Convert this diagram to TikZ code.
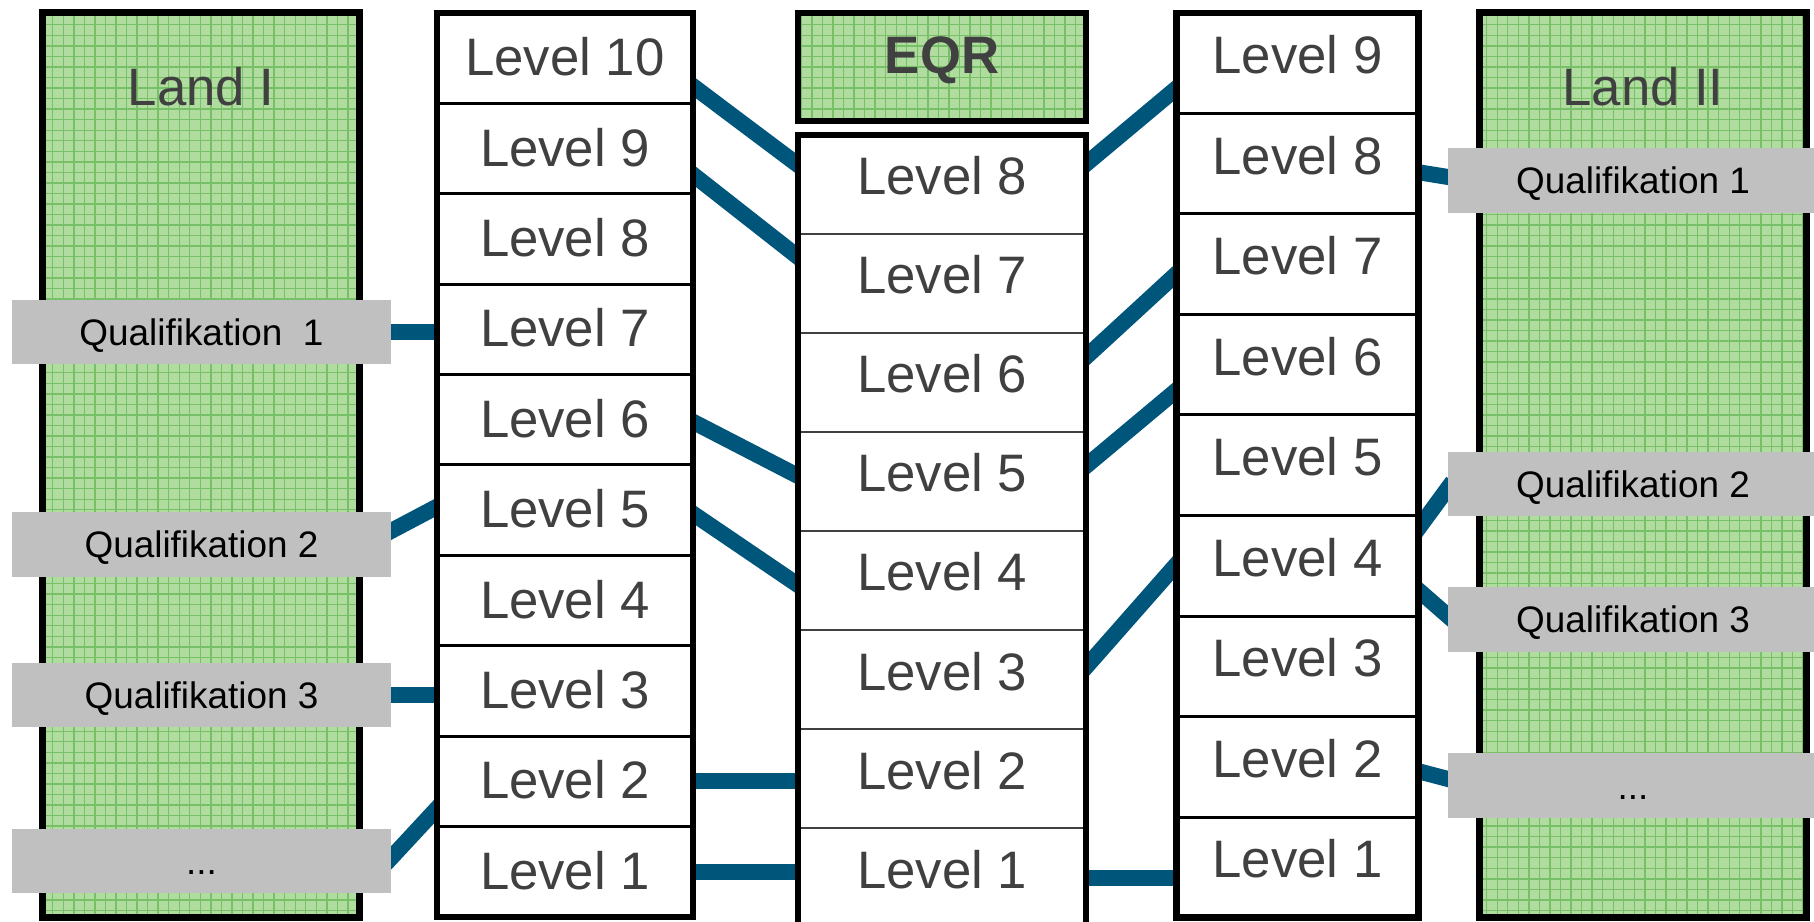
\documentclass[tikz,border=0pt]{standalone}
\usepackage{fontspec}
\setmainfont{Liberation Sans}
\definecolor{land_green}{RGB}{176,220,160}
\definecolor{grid_green}{RGB}{120,192,104}
\definecolor{link_blue}{RGB}{0,85,122}
\definecolor{qual_gray}{RGB}{192,192,192}
\definecolor{text_gray}{RGB}{64,64,64}
\usetikzlibrary{positioning,fit,patterns,backgrounds}

\begin{document}
\begin{tikzpicture}[
    levelCell/.style={draw, fill=white, inner sep=0pt, outer sep=0pt, text=text_gray, font=\fontsize{15}{18}\selectfont, text height=0.38cm},
    cellLeft/.style={levelCell, minimum width=2.56cm, minimum height=0.904cm, line width=0.03cm, text depth=0.03cm},
    cellEqr/.style={levelCell, draw=black!75, minimum width=2.88cm, minimum height=0.99cm, line width=0.02cm, text depth=0.17cm},
    cellRight/.style={levelCell, minimum width=2.42cm, minimum height=1.005cm, line width=0.03cm, text depth=0.17cm},
    colFrame/.style={draw, line width=0.065cm, inner sep=0pt, outer sep=0pt},
    landBox/.style={draw, line width=0.07cm, inner sep=0pt, outer sep=0pt, preaction={fill=land_green}, pattern=grid, pattern color=grid_green},
    landTitle/.style={inner sep=0pt, text=text_gray, font=\fontsize{15}{18}\selectfont},
    qualBox/.style={fill=qual_gray, inner sep=0pt, outer sep=0pt, minimum height=0.645cm, text height=0.27cm, text depth=0cm, font=\fontsize{10.5}{12}\selectfont},
    qualLeft/.style={qualBox, minimum width=3.79cm},
    qualRight/.style={qualBox, minimum width=3.70cm},
    link/.style={draw=link_blue, line width=0.16cm, shorten <=-0.08cm, shorten >=-0.08cm},
  ]
  \useasboundingbox (0,0) rectangle (18.14,9.21);

  % countries
  \node[landBox, minimum width=3.17cm, minimum height=9.045cm] (land1) at (2.01,4.5625) {};
  \node[landBox, minimum width=3.27cm, minimum height=9.045cm] (land2) at (16.43,4.5625) {};
  \node[landTitle] (title1) at ([yshift=-0.745cm]land1.north) {Land I};
  \node[landTitle] (title2) at ([yshift=-0.745cm]land2.north) {Land II};

  % levels of Land I
  \node[cellLeft] (l10) at (5.65,8.628) {Level 10};
  \foreach \i [remember=\i as \p (initially 10)] in {9,...,1}
    \node[cellLeft, below=0pt of l\p] (l\i) {Level \i};
  \node[colFrame, fit=(l10)(l1)] (colLeft) {};

  % EQR
  \node[landBox, line width=0.065cm, minimum width=2.88cm, minimum height=1.08cm, text=text_gray, font=\fontsize{15}{18}\selectfont\bfseries, text height=0.38cm, text depth=0.24cm] (eqr) at (9.42,8.54) {EQR};
  \node[cellEqr] (e8) at (9.42,7.365) {Level 8};
  \foreach \i [remember=\i as \p (initially 8)] in {7,...,1}
    \node[cellEqr, below=0pt of e\p] (e\i) {Level \i};
  \node[colFrame, fit=(e8)(e1)] (colEqr) {};

  % levels of Land II
  \node[cellRight] (r9) at (12.975,8.5775) {Level 9};
  \foreach \i [remember=\i as \p (initially 9)] in {8,...,1}
    \node[cellRight, below=0pt of r\p] (r\i) {Level \i};
  \node[colFrame, fit=(r9)(r1)] (colRight) {};

  % qualifications
  \node[qualLeft] (lq1) at (2.015,5.89) {Qualifikation\ \ 1};
  \node[qualLeft] (lq2) at (2.015,3.765) {Qualifikation 2};
  \node[qualLeft] (lq3) at (2.015,2.26) {Qualifikation 3};
  \node[qualLeft] (lq4) at (2.015,0.60) {...};
  \node[qualRight] (rq1) at (16.33,7.405) {Qualifikation 1};
  \node[qualRight] (rq2) at (16.33,4.37) {Qualifikation 2};
  \node[qualRight] (rq3) at (16.33,3.015) {Qualifikation 3};
  \node[qualRight] (rq4) at (16.33,1.355) {...};

  \begin{pgfonlayer}{background}
    % Land I -> levels
    \draw[link] (lq1.east) -- (lq1.east -| l7.west);
    \draw[link] ([yshift=0.135cm]lq2.east) -- ([yshift=0.035cm]l5.west);
    \draw[link] (lq3.east) -- (lq3.east -| l3.west);
    \draw[link] ([yshift=0.03cm]lq4.east) -- ([yshift=-0.27cm]l2.west);
    % Land I -> EQR
    \draw[link] ([yshift=-0.28cm]l10.east) -- ([yshift=0.195cm]e8.west);
    \draw[link] ([yshift=-0.26cm]l9.east) -- ([yshift=0.265cm]e7.west);
    \draw[link] ([yshift=-0.02cm]l6.east) -- ([yshift=0.055cm]e5.west);
    \draw[link] ([yshift=-0.035cm]l5.east) -- ([yshift=-0.045cm]e4.west);
    \draw[link] (l2.east) -- (l2.east -| e2.west);
    \draw[link] (l1.east) -- (l1.east -| e1.west);
    % EQR -> Land II
    \draw[link] ([yshift=0.205cm]e8.east) -- ([yshift=-0.25cm]r9.west);
    \draw[link] ([yshift=0.255cm]e6.east) -- ([yshift=-0.095cm]r7.west);
    \draw[link] ([yshift=0.155cm]e5.east) -- ([yshift=-0.255cm]r6.west);
    \draw[link] ([yshift=0.125cm]e3.east) -- ([yshift=0.015cm]r4.west);
    \draw[link] (e1.east) -- (e1.east -| r1.west);
    % levels -> Land II
    \draw[link] ([yshift=-0.085cm]r8.east) -- ([yshift=0.035cm]rq1.west);
    \draw[link] ([yshift=0.375cm]r4.east) -- ([yshift=-0.04cm]rq2.west);
    \draw[link] ([yshift=-0.245cm]r4.east) -- ([yshift=0.035cm]rq3.west);
    \draw[link] ([yshift=-0.045cm]r2.east) -- ([yshift=0.065cm]rq4.west);
  \end{pgfonlayer}
\end{tikzpicture}
\end{document}
